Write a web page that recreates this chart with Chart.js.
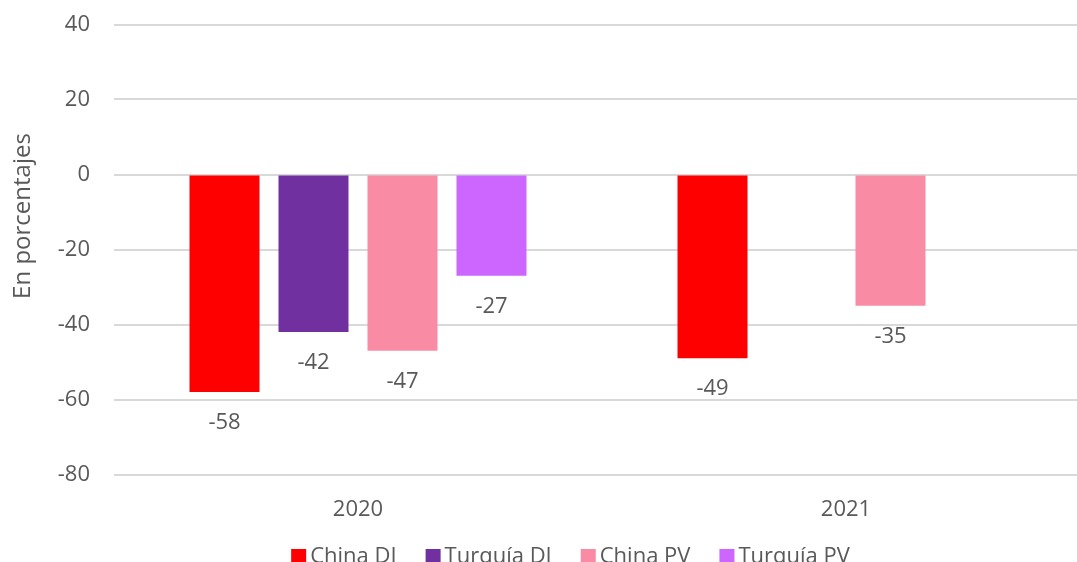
<!DOCTYPE html>
<html>
<head>
<meta charset="utf-8">
<script src="https://cdn.jsdelivr.net/npm/chart.js@4/dist/chart.umd.min.js"></script>
<style>
  body { margin: 0; overflow: hidden; background: #fff; }
  #wrap { width: 1100px; height: 562px; }
</style>
</head>
<body>
<div id="wrap"><canvas id="chart" width="1100" height="562"></canvas></div>
<script>
const categories = ['2020', '2021'];
const seriesNames = ['China DI', 'Turquía DI', 'China PV', 'Turquía PV'];
const chinaDI = [-58, -49];
const turquiaDI = [-42, null];
const chinaPV = [-47, -35];
const turquiaPV = [-27, null];
const yTicks = [40, 20, 0, -20, -40, -60, -80];
const axisTitle = 'En porcentajes';

const colors = ['#FF0000', '#7030A0', '#FA8BA4', '#CC66FF'];
const textColor = '#595959';
const fontFamily = "'Open Sans', sans-serif";

// value labels under each bar
const valueLabels = {
    id: 'valueLabels',
    afterDatasetsDraw(chart) {
        const ctx = chart.ctx;
        ctx.save();
        ctx.font = '22px ' + fontFamily;
        ctx.fillStyle = textColor;
        ctx.textAlign = 'center';
        ctx.textBaseline = 'alphabetic';
        chart.data.datasets.forEach((ds, i) => {
            chart.getDatasetMeta(i).data.forEach((bar, j) => {
                const v = ds.data[j];
                if (v === null) return;
                ctx.fillText(String(v), bar.x, bar.y + 37);
            });
        });
        ctx.restore();
    }
};

// axis title and legend drawn by hand to match the spacing
const extras = {
    id: 'extras',
    afterDraw(chart) {
        const ctx = chart.ctx;
        ctx.save();
        ctx.fillStyle = textColor;
        ctx.font = '24px ' + fontFamily;
        ctx.translate(23, 216);
        ctx.rotate(-Math.PI / 2);
        ctx.textAlign = 'center';
        ctx.textBaseline = 'middle';
        ctx.fillText(axisTitle, 0, 0);
        ctx.restore();

        ctx.save();
        ctx.font = '22px ' + fontFamily;
        ctx.textBaseline = 'alphabetic';
        const box = 15, gap = 4, itemGap = 29;
        const widths = seriesNames.map(n => ctx.measureText(n).width);
        let total = itemGap * (seriesNames.length - 1);
        widths.forEach(w => total += box + gap + w);
        let x = 570.5 - total / 2;
        seriesNames.forEach((name, i) => {
            ctx.fillStyle = colors[i];
            ctx.fillRect(x, 549, box, box);
            ctx.fillStyle = textColor;
            ctx.fillText(name, x + box + gap, 562.5);
            x += box + gap + widths[i] + itemGap;
        });
        ctx.restore();
    }
};

const seriesData = [chinaDI, turquiaDI, chinaPV, turquiaPV];

new Chart(document.getElementById('chart'), {
    type: 'bar',
    data: {
        labels: categories,
        datasets: seriesNames.map((name, i) => ({
            label: name,
            data: seriesData[i],
            backgroundColor: colors[i],
            categoryPercentage: 0.7295,
            barPercentage: 0.7865
        }))
    },
    options: {
        responsive: false,
        animation: false,
        devicePixelRatio: 1,
        layout: { padding: { top: 24.5, right: 10, bottom: 27.5, left: 0 } },
        plugins: {
            legend: { display: false },
            tooltip: { enabled: false }
        },
        scales: {
            x: {
                afterFit(scale) {
                    scale.height = 60;
                    scale.paddingLeft = 0;
                    scale.paddingRight = 0;
                },
                grid: { display: false },
                border: { display: false },
                ticks: {
                    color: textColor,
                    font: { family: fontFamily, size: 22 },
                    padding: 14
                }
            },
            y: {
                min: -80,
                max: 40,
                afterBuildTicks(scale) {
                    scale.ticks = yTicks.map(v => ({ value: v }));
                },
                afterFit(scale) {
                    scale.width = 114;
                    scale.paddingTop = 0;
                    scale.paddingBottom = 0;
                },
                grid: { color: '#D9D9D9', lineWidth: 2, drawTicks: false },
                border: { display: false },
                ticks: {
                    color: textColor,
                    font: { family: fontFamily, size: 22 },
                    padding: 24
                }
            }
        }
    },
    plugins: [valueLabels, extras]
});
</script>
</body>
</html>
